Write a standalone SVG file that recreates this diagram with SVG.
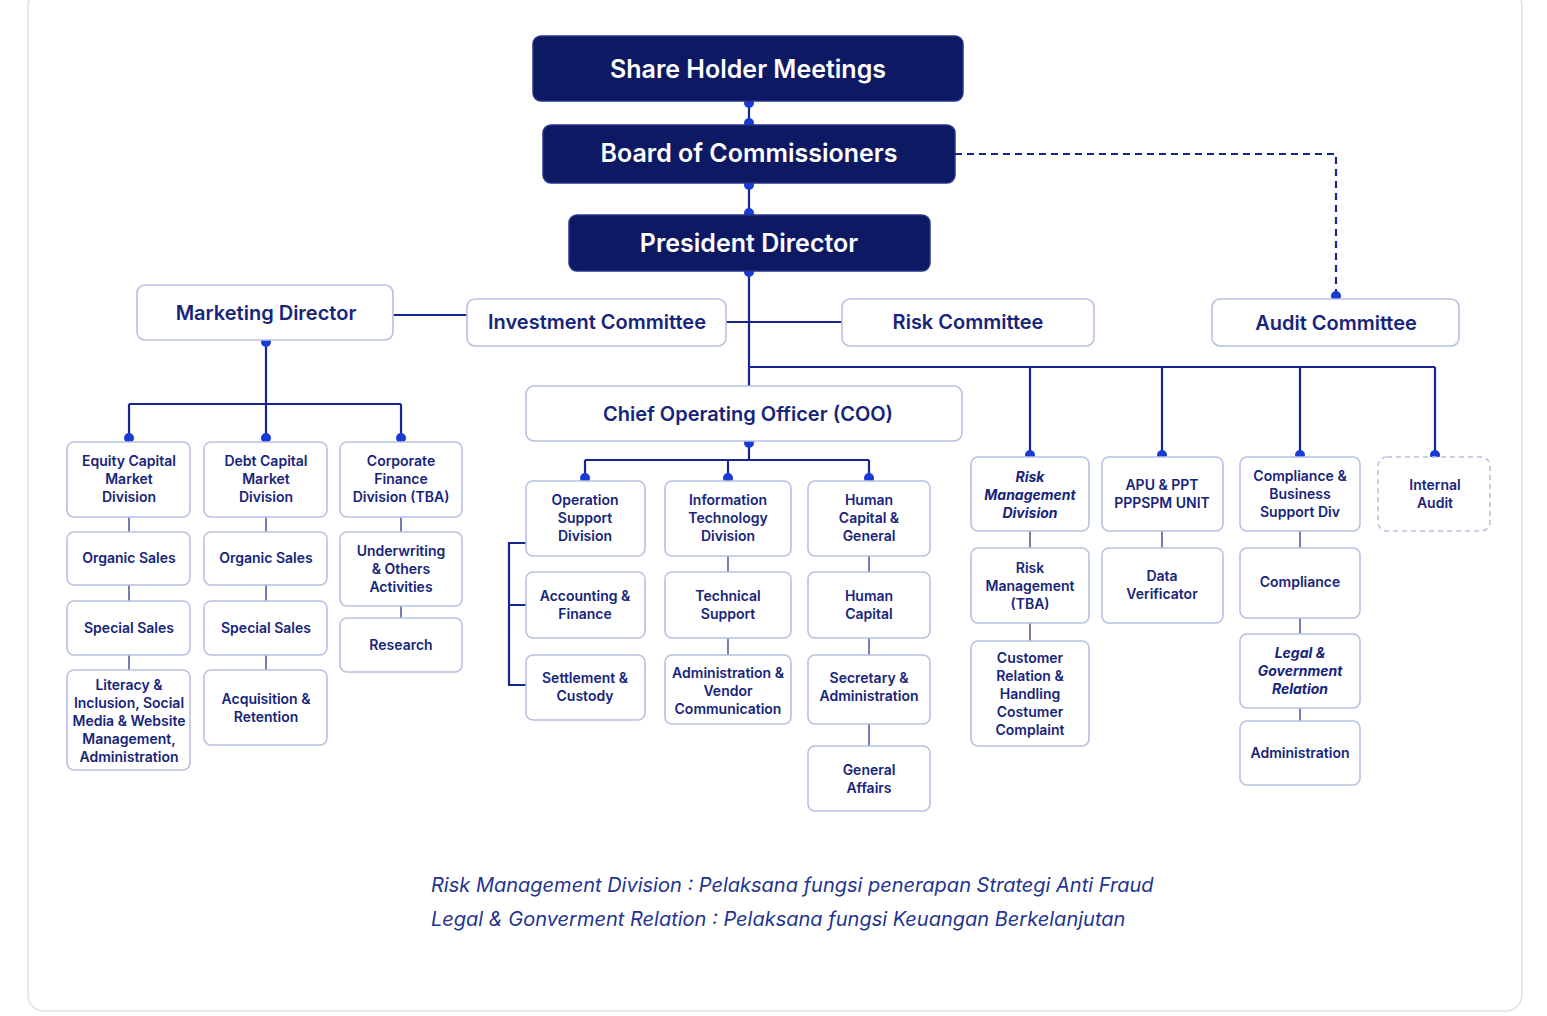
<svg xmlns="http://www.w3.org/2000/svg" width="1547" height="1016" viewBox="0 0 1547 1016">
<style>
text{font-family:Inter,"Noto Sans","Liberation Sans",sans-serif;fill:#16257a;text-anchor:middle;font-weight:600}
.hd rect{fill:#0d1a63;stroke:#26358a;stroke-width:1.5}
.hd text{fill:#fff;font-size:25px}
.bx rect{fill:#fff;stroke:#b9c0e2;stroke-width:1.6}
.md text{font-size:20px}
.sm text{font-size:14px}
.it text{font-style:italic;font-weight:700}
.ln{stroke:#17268f;stroke-width:2.2;fill:none}
.tk{stroke:#5560a0;stroke-width:1.6;fill:none}
.dt{fill:#1a3ad6}
.ft{font-style:italic;font-weight:400;font-size:20px;text-anchor:start;fill:#1f3590}
</style>
<rect x="28" y="-10" width="1494" height="1021" rx="16" fill="#fff" stroke="#e2e2e6" stroke-width="1.5"/>
<g id="connectors">
<path class="ln" d="M749 101V125M749 183V215M749 271V386M393 315H467M726 322H842M749 367H1435M1030 367V455M1162 367V455M1300 367V455M1435 367V455"/>
<path class="ln" d="M955 154H1336V296" stroke-dasharray="7 5"/>
<path class="ln" d="M266 342V404M129 404H401M129 404V438M266 404V438M401 404V438"/>
<path class="ln" d="M749 443V460M585 460H869M585 460V478M728 460V478M869 460V478"/>
<path class="ln" d="M526 543H509V685H526M509 605H526"/>
<path class="tk" d="M129 517V532M129 585V601M129 655V670M266 517V532M266 585V601M266 655V670M401 517V532M401 606V618M728 556V572M728 638V655M869 556V572M869 638V655M869 724V746M1030 531V548M1030 623V641M1162 531V548M1300 531V548M1300 618V634M1300 708V721"/>
<g class="dt">
<circle cx="749" cy="103" r="5"/><circle cx="749" cy="123" r="5"/><circle cx="749" cy="185" r="5"/><circle cx="749" cy="213" r="5"/><circle cx="749" cy="272" r="5"/>
<circle cx="1336" cy="296" r="5"/><circle cx="266" cy="342" r="5"/><circle cx="129" cy="438" r="5"/><circle cx="266" cy="438" r="5"/><circle cx="401" cy="438" r="5"/>
<circle cx="749" cy="443" r="5"/><circle cx="585" cy="478" r="5"/><circle cx="728" cy="478" r="5"/><circle cx="869" cy="478" r="5"/>
<circle cx="1030" cy="455" r="5"/><circle cx="1162" cy="455" r="5"/><circle cx="1300" cy="455" r="5"/><circle cx="1435" cy="455" r="5"/>
</g>
</g>
<g id="shm" class="hd"><rect x="533" y="36" width="430" height="65" rx="8"/><text x="748" y="78" font-size="27">Share Holder Meetings</text></g>
<g id="boc" class="hd"><rect x="543" y="125" width="412" height="58" rx="8"/><text x="749" y="162">Board of Commissioners</text></g>
<g id="pd" class="hd"><rect x="569" y="215" width="361" height="56" rx="8"/><text x="749" y="252">President Director</text></g>
<g id="md" class="bx md"><rect x="137" y="285" width="256" height="55" rx="8"/><text x="266" y="320">Marketing Director</text></g>
<g id="ic" class="bx md"><rect x="467" y="299" width="259" height="47" rx="8"/><text x="597" y="329" font-size="18">Investment Committee</text></g>
<g id="rc" class="bx md"><rect x="842" y="299" width="252" height="47" rx="8"/><text x="968" y="329" font-size="18">Risk Committee</text></g>
<g id="ac" class="bx md"><rect x="1212" y="299" width="247" height="47" rx="8"/><text x="1336" y="330" font-size="18">Audit Committee</text></g>
<g id="coo" class="bx md"><rect x="526" y="386" width="436" height="55" rx="8"/><text x="748" y="421" font-size="21">Chief Operating Officer (COO)</text></g>
<g class="bx sm">
<g id="ecm"><rect x="67" y="442" width="123" height="75" rx="7"/><text x="129" y="466">Equity Capital<tspan x="129" dy="18">Market</tspan><tspan x="129" dy="18">Division</tspan></text></g>
<g id="os1"><rect x="67" y="532" width="123" height="53" rx="7"/><text x="129" y="563">Organic Sales</text></g>
<g id="ss1"><rect x="67" y="601" width="123" height="54" rx="7"/><text x="129" y="633">Special Sales</text></g>
<g id="lit"><rect x="67" y="670" width="123" height="100" rx="7"/><text x="129" y="690">Literacy &amp;<tspan x="129" dy="18">Inclusion, Social</tspan><tspan x="129" dy="18">Media &amp; Website</tspan><tspan x="129" dy="18">Management,</tspan><tspan x="129" dy="18">Administration</tspan></text></g>
<g id="dcm"><rect x="204" y="442" width="123" height="75" rx="7"/><text x="266" y="466">Debt Capital<tspan x="266" dy="18">Market</tspan><tspan x="266" dy="18">Division</tspan></text></g>
<g id="os2"><rect x="204" y="532" width="123" height="53" rx="7"/><text x="266" y="563">Organic Sales</text></g>
<g id="ss2"><rect x="204" y="601" width="123" height="54" rx="7"/><text x="266" y="633">Special Sales</text></g>
<g id="acq"><rect x="204" y="670" width="123" height="75" rx="7"/><text x="266" y="704">Acquisition &amp;<tspan x="266" dy="18">Retention</tspan></text></g>
<g id="cfd"><rect x="340" y="442" width="122" height="75" rx="7"/><text x="401" y="466">Corporate<tspan x="401" dy="18">Finance</tspan><tspan x="401" dy="18">Division (TBA)</tspan></text></g>
<g id="uw"><rect x="340" y="532" width="122" height="74" rx="7"/><text x="401" y="556">Underwriting<tspan x="401" dy="18">&amp; Others</tspan><tspan x="401" dy="18">Activities</tspan></text></g>
<g id="res"><rect x="340" y="618" width="122" height="54" rx="7"/><text x="401" y="650">Research</text></g>
<g id="osd"><rect x="526" y="481" width="119" height="75" rx="7"/><text x="585" y="505">Operation<tspan x="585" dy="18">Support</tspan><tspan x="585" dy="18">Division</tspan></text></g>
<g id="af"><rect x="526" y="572" width="119" height="66" rx="7"/><text x="585" y="601">Accounting &amp;<tspan x="585" dy="18">Finance</tspan></text></g>
<g id="sc"><rect x="526" y="655" width="119" height="65" rx="7"/><text x="585" y="683">Settlement &amp;<tspan x="585" dy="18">Custody</tspan></text></g>
<g id="itd"><rect x="665" y="481" width="126" height="75" rx="7"/><text x="728" y="505">Information<tspan x="728" dy="18">Technology</tspan><tspan x="728" dy="18">Division</tspan></text></g>
<g id="ts"><rect x="665" y="572" width="126" height="66" rx="7"/><text x="728" y="601">Technical<tspan x="728" dy="18">Support</tspan></text></g>
<g id="avc"><rect x="665" y="655" width="126" height="69" rx="7"/><text x="728" y="678">Administration &amp;<tspan x="728" dy="18">Vendor</tspan><tspan x="728" dy="18">Communication</tspan></text></g>
<g id="hcg"><rect x="808" y="481" width="122" height="75" rx="7"/><text x="869" y="505">Human<tspan x="869" dy="18">Capital &amp;</tspan><tspan x="869" dy="18">General</tspan></text></g>
<g id="hc"><rect x="808" y="572" width="122" height="66" rx="7"/><text x="869" y="601">Human<tspan x="869" dy="18">Capital</tspan></text></g>
<g id="sa"><rect x="808" y="655" width="122" height="69" rx="7"/><text x="869" y="683">Secretary &amp;<tspan x="869" dy="18">Administration</tspan></text></g>
<g id="ga"><rect x="808" y="746" width="122" height="65" rx="7"/><text x="869" y="775">General<tspan x="869" dy="18">Affairs</tspan></text></g>
<g id="rmd" class="it"><rect x="971" y="457" width="118" height="74" rx="7"/><text x="1030" y="482">Risk<tspan x="1030" dy="18">Management</tspan><tspan x="1030" dy="18">Division</tspan></text></g>
<g id="rmt"><rect x="971" y="548" width="118" height="75" rx="7"/><text x="1030" y="573">Risk<tspan x="1030" dy="18">Management</tspan><tspan x="1030" dy="18">(TBA)</tspan></text></g>
<g id="crh"><rect x="971" y="641" width="118" height="105" rx="7"/><text x="1030" y="663">Customer<tspan x="1030" dy="18">Relation &amp;</tspan><tspan x="1030" dy="18">Handling</tspan><tspan x="1030" dy="18">Costumer</tspan><tspan x="1030" dy="18">Complaint</tspan></text></g>
<g id="apu"><rect x="1102" y="457" width="121" height="74" rx="7"/><text x="1162" y="490">APU &amp; PPT<tspan x="1162" dy="18">PPPSPM UNIT</tspan></text></g>
<g id="dv"><rect x="1102" y="548" width="121" height="75" rx="7"/><text x="1162" y="581">Data<tspan x="1162" dy="18">Verificator</tspan></text></g>
<g id="cbs"><rect x="1240" y="457" width="120" height="74" rx="7"/><text x="1300" y="481">Compliance &amp;<tspan x="1300" dy="18">Business</tspan><tspan x="1300" dy="18">Support Div</tspan></text></g>
<g id="cmp"><rect x="1240" y="548" width="120" height="70" rx="7"/><text x="1300" y="587">Compliance</text></g>
<g id="lgr" class="it"><rect x="1240" y="634" width="120" height="74" rx="7"/><text x="1300" y="658">Legal &amp;<tspan x="1300" dy="18">Government</tspan><tspan x="1300" dy="18">Relation</tspan></text></g>
<g id="adm"><rect x="1240" y="721" width="120" height="64" rx="7"/><text x="1300" y="758">Administration</text></g>
<g id="ia"><rect x="1378" y="457" width="112" height="74" rx="9" stroke-dasharray="5 4"/><text x="1435" y="490">Internal<tspan x="1435" dy="18">Audit</tspan></text></g>
</g>
<text class="ft" x="431" y="892">Risk Management Division : Pelaksana fungsi penerapan Strategi Anti Fraud</text>
<text class="ft" x="431" y="926">Legal &amp; Gonverment Relation : Pelaksana fungsi Keuangan Berkelanjutan</text>
</svg>
